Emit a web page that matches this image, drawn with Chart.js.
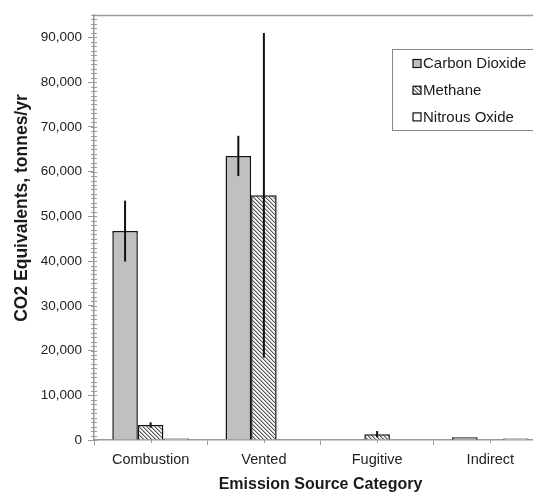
<!DOCTYPE html>
<html>
<head>
<meta charset="utf-8">
<script src="https://cdn.jsdelivr.net/npm/chart.js@4/dist/chart.umd.min.js"></script>
<style>
  html, body { margin: 0; padding: 0; background: #fff; overflow: hidden; width: 533px; height: 495px; }
  canvas { display: block; }
</style>
</head>
<body>
<canvas id="chart" width="560" height="495"></canvas>
<script>
// Emission estimates by source category (CO2 equivalents, tonnes/yr)
const categories = ['Combustion', 'Vented', 'Fugitive', 'Indirect'];
const seriesNames = ['Carbon Dioxide', 'Methane', 'Nitrous Oxide'];
const carbonDioxide = [46700, 63500, 0, 600];
const methane = [3350, 54700, 1300, 0];
const nitrousOxide = [350, 0, 0, 350];
// Uncertainty (+/-) for each bar
const carbonDioxideErr = [6800, 4500, 0, 0];
const methaneErr = [600, 36300, 700, 0];
const nitrousOxideErr = [0, 0, 0, 0];
// Value axis
const yTickValues = [0, 10000, 20000, 30000, 40000, 50000, 60000, 70000, 80000, 90000];
const yMax = 95000;
const yMinorStep = 1000;

const FONT = "'Liberation Sans', Arial, sans-serif";
Chart.defaults.font.family = FONT;

// Diagonal hatch fill used for methane
function makeHatch() {
  const c = document.createElement('canvas');
  c.width = 4; c.height = 4;
  const g = c.getContext('2d');
  g.fillStyle = '#f4f4f4';
  g.fillRect(0, 0, 4, 4);
  for (let i = 0; i < 4; i++) {
    g.fillStyle = '#555555';
    g.fillRect(i, i, 1, 1);
    g.fillStyle = '#b8b8b8';
    g.fillRect((i + 1) % 4, i, 1, 1);
  }
  return g.createPattern(c, 'repeat');
}
const hatch = makeHatch();

const fills = ['#c0c0c0', hatch, '#ffffff'];
const values = [carbonDioxide, methane, nitrousOxide];
const errors = [carbonDioxideErr, methaneErr, nitrousOxideErr];

const datasets = seriesNames.map((name, i) => ({
  label: name,
  data: values[i],
  errors: errors[i],
  backgroundColor: fills[i],
  borderColor: '#111',
  borderWidth: 1.5,
  categoryPercentage: 0.677,
  barPercentage: 1.0
}));

// Symmetric error bars drawn on top of each bar
const errorBars = {
  id: 'errorBars',
  afterDatasetsDraw(chart) {
    const ctx = chart.ctx;
    const y = chart.scales.y;
    ctx.save();
    ctx.strokeStyle = '#111';
    ctx.lineWidth = 2;
    chart.data.datasets.forEach((ds, i) => {
      const meta = chart.getDatasetMeta(i);
      meta.data.forEach((bar, j) => {
        const e = ds.errors[j];
        if (!e) return;
        const v = ds.data[j];
        ctx.beginPath();
        ctx.moveTo(bar.x, y.getPixelForValue(v + e));
        ctx.lineTo(bar.x, y.getPixelForValue(Math.max(0, v - e)));
        ctx.stroke();
      });
    });
    ctx.restore();
  }
};

// Minor ticks, frame line, axis titles and the legend box
const decorations = {
  id: 'decorations',
  afterDraw(chart) {
    const ctx = chart.ctx;
    const area = chart.chartArea;
    const x = chart.scales.x;
    const y = chart.scales.y;
    ctx.save();

    // top frame line
    ctx.strokeStyle = '#9a9a9a';
    ctx.lineWidth = 1.5;
    ctx.beginPath();
    ctx.moveTo(area.left, area.top + 0.5);
    ctx.lineTo(chart.width, area.top + 0.5);
    ctx.stroke();

    // minor ticks on the value axis
    ctx.strokeStyle = '#9a9a9a';
    ctx.lineWidth = 1;
    ctx.beginPath();
    for (let v = 0; v <= yMax; v += yMinorStep) {
      const py = Math.round(y.getPixelForValue(v)) + 0.5;
      ctx.moveTo(area.left - 3, py);
      ctx.lineTo(area.left + 3, py);
    }
    // minor ticks at category centres
    categories.forEach((c, i) => {
      const px = Math.round(x.getPixelForValue(i)) + 0.5;
      ctx.moveTo(px, area.bottom);
      ctx.lineTo(px, area.bottom + 3);
    });
    ctx.stroke();

    // axis titles
    ctx.fillStyle = '#1a1a1a';
    ctx.font = 'bold 16px ' + FONT;
    ctx.textAlign = 'center';
    ctx.textBaseline = 'middle';
    ctx.fillText('Emission Source Category', (area.left + area.right) / 2, 485);

    ctx.save();
    ctx.translate(22, 208);
    ctx.rotate(-Math.PI / 2);
    ctx.font = 'bold 17.5px ' + FONT;
    ctx.fillText('CO2 Equivalents, tonnes/yr', 0, 0);
    ctx.restore();

    // legend
    const lx = 392, ly = 49, lh = 81;
    ctx.fillStyle = '#fff';
    ctx.fillRect(lx, ly, chart.width - lx + 10, lh);
    ctx.strokeStyle = '#888';
    ctx.lineWidth = 1;
    ctx.strokeRect(lx + 0.5, ly + 0.5, chart.width - lx + 10, lh);
    ctx.font = '15px ' + FONT;
    ctx.textAlign = 'left';
    chart.data.datasets.forEach((ds, i) => {
      const cy = 63.5 + i * 26.7;
      ctx.fillStyle = ds.backgroundColor;
      ctx.fillRect(413, cy - 4, 8, 8);
      ctx.strokeStyle = '#111';
      ctx.lineWidth = 1.2;
      ctx.strokeRect(413, cy - 4, 8, 8);
      ctx.fillStyle = '#1a1a1a';
      ctx.fillText(ds.label, 423, cy + 0.5);
    });
    ctx.restore();
  }
};

new Chart(document.getElementById('chart'), {
  type: 'bar',
  data: { labels: categories, datasets },
  options: {
    responsive: false,
    animation: false,
    layout: { padding: { top: 15, right: 13, left: 0, bottom: 0 } },
    plugins: {
      legend: { display: false },
      tooltip: { enabled: false }
    },
    scales: {
      x: {
        offset: true,
        grid: { offset: true, drawOnChartArea: false, drawTicks: true, tickLength: 5, color: '#9a9a9a', lineWidth: 1 },
        border: { color: '#9a9a9a', width: 1.5 },
        ticks: { color: '#222', font: { size: 14.5 }, padding: 6, maxRotation: 0 },
        afterFit(s) { s.height = 55; }
      },
      y: {
        min: 0,
        max: yMax,
        grid: { drawOnChartArea: false, drawTicks: true, tickLength: 6, color: '#9a9a9a', lineWidth: 1 },
        border: { color: '#9a9a9a', width: 1.5 },
        ticks: {
          autoSkip: false,
          color: '#222',
          font: { size: 13.5 },
          padding: 6,
          callback: v => v.toLocaleString('en-US')
        },
        afterBuildTicks(s) { s.ticks = yTickValues.map(v => ({ value: v })); },
        afterFit(s) { s.width = 94; }
      }
    }
  },
  plugins: [errorBars, decorations]
});
</script>
</body>
</html>
